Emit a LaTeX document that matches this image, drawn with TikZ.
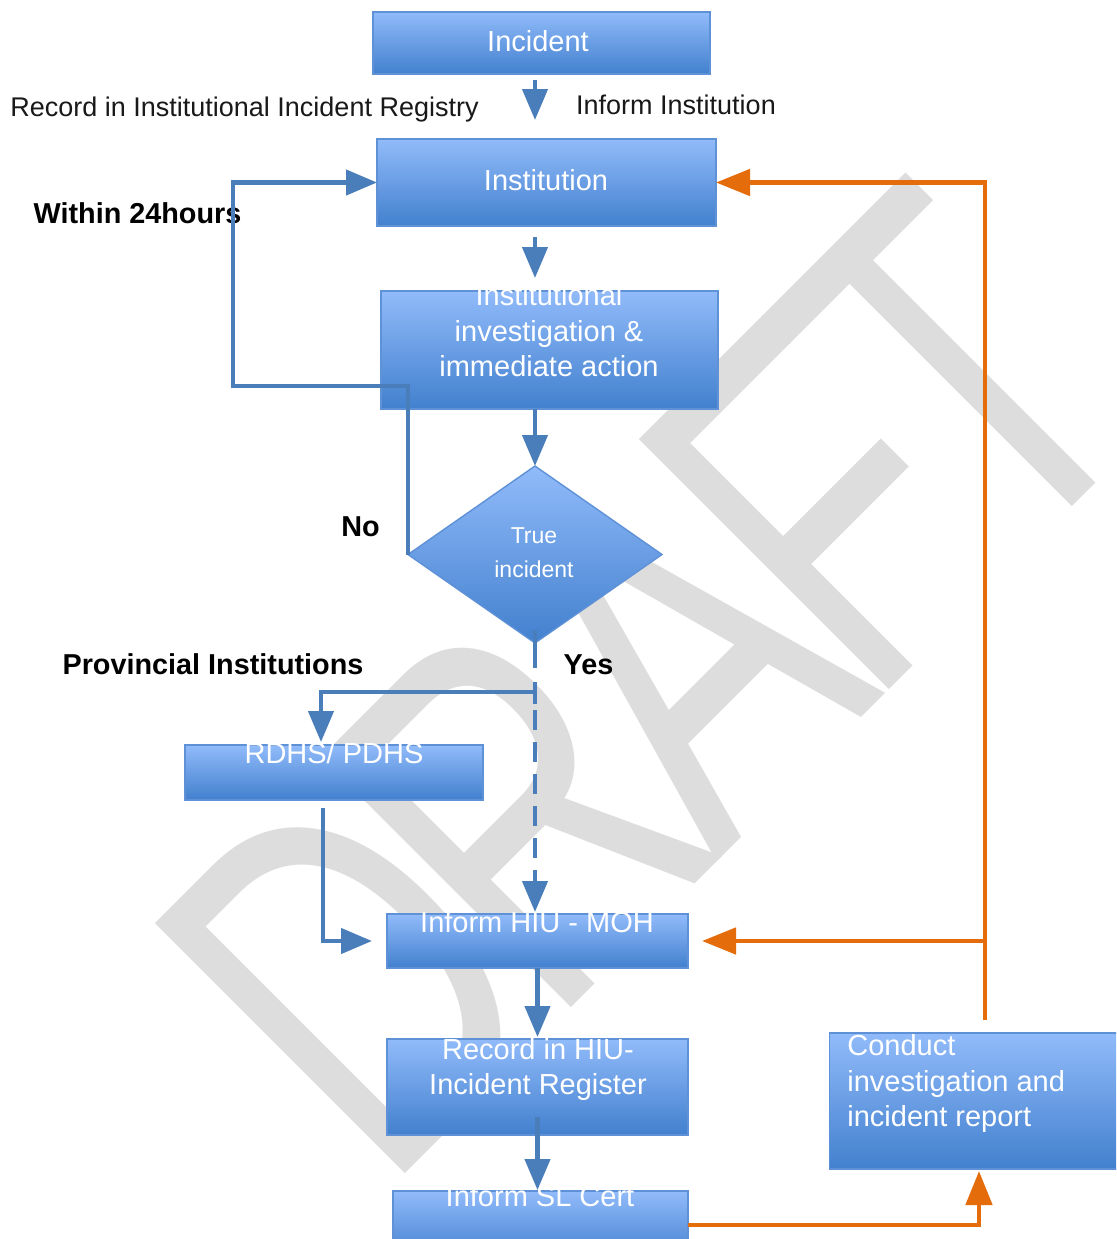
\documentclass[tikz,border=0pt]{standalone}
\usepackage{fontspec}
\setmainfont{Liberation Sans}
\usetikzlibrary{arrows.meta,shapes.geometric,calc}
\definecolor{bl}{RGB}{74,126,187}
\definecolor{org}{RGB}{228,108,10}
\definecolor{boxtop}{RGB}{145,187,250}
\definecolor{boxbot}{RGB}{66,128,206}
\definecolor{boxline}{RGB}{95,145,215}
\definecolor{wmgray}{RGB}{221,221,221}
\definecolor{labblack}{RGB}{25,25,25}
\begin{document}
\begin{tikzpicture}[x=0.5pt,y=-0.5pt,
  box/.style={draw=boxline,line width=0.7pt,top color=boxtop,bottom color=boxbot,inner sep=0pt,outer sep=0pt},
  btext/.style={text=white,font=\fontsize{14.5pt}{17.75pt}\selectfont,inner sep=0pt},
  dtext/.style={text=white,font=\fontsize{11.5pt}{17pt}\selectfont,inner sep=0pt,align=center},
  lab/.style={text=labblack,font=\fontsize{13.5pt}{16pt}\selectfont,inner sep=0pt},
  blab/.style={text=black,font=\bfseries\fontsize{14.4pt}{17pt}\selectfont,inner sep=0pt},
  bline/.style={draw=bl,line width=2.2pt},
  barrow/.style={bline,-{Triangle[length=15.5pt,width=12.5pt]}},
  oarrow/.style={draw=org,line width=2.4pt,-{Triangle[length=17pt,width=13pt]}},
  dashline/.style={dash pattern=on 10pt off 6pt}
]
\fill[white] (0,0) rectangle (1116,1239);
\clip (0,0) rectangle (1116,1239);

% watermark
\begin{scope}[shift={(648,681)}]
  \node[font={\addfontfeature{LetterSpace=-7}\fontsize{257pt}{257pt}\selectfont},text=wmgray,inner sep=0pt,
        rotate=45,xscale=0.70,transform shape] (wm) at (0,0) {DRAFT};
\end{scope}

% boxes
\node[box,minimum width=168.5pt,minimum height=31pt] (inc) at (541.5,43) {};
\node[box,minimum width=169.5pt,minimum height=43.5pt] (inst) at (546.5,182.5) {};
\node[box,minimum width=168.5pt,minimum height=59pt] (inv) at (549.5,350) {};
\node[box,diamond,minimum width=127pt,minimum height=88.5pt] (dia) at (535,554.5) {};
\node[box,minimum width=149pt,minimum height=27.5pt] (rdhs) at (334,772.5) {};
\node[box,minimum width=150.5pt,minimum height=27pt] (hiu) at (537.5,941) {};
\node[box,minimum width=150.5pt,minimum height=48pt] (rec) at (537.5,1087) {};
\node[box,minimum width=147.5pt,minimum height=34pt] (cert) at (540.5,1225) {};
\node[box,minimum width=155pt,minimum height=68pt] (cond) at (984.5,1101) {};

% box texts
\node[btext] (tinc) at (538,41) {Incident};
\node[btext] (tinst) at (546,180) {Institution};
\node[btext,align=center] (tinv) at (549,331) {Institutional\\investigation \&\\immediate action};
\node[dtext] (tdia) at (534,552.5) {True\\incident};
\node[btext] (trdhs) at (334,753) {RDHS/ PDHS};
\node[btext] (thiu) at (537,922) {Inform HIU - MOH};
\node[btext,align=center] (trec) at (538,1069.5) {Record in HIU-\\Incident Register};
\node[btext] (tcert) at (540,1196) {Inform SL Cert};
\node[btext,align=left,anchor=west] (tcond) at (847,1083.5) {Conduct\\investigation and\\incident report};

% labels
\node[lab,anchor=base] (lrec) at (244.5,116) {Record in Institutional Incident Registry};
\node[lab,anchor=base] (linf) at (676,114) {Inform Institution};
\node[blab,anchor=base] (l24) at (137.5,223) {Within 24hours};
\node[blab,anchor=base] (lno) at (360.5,536) {No};
\node[blab,anchor=base] (lprov) at (213,674) {Provincial Institutions};
\node[blab,anchor=base] (lyes) at (588.5,674) {Yes};

% helper coordinates
\coordinate (axis) at (535,0);
\coordinate (nocorner) at (233,386);
\coordinate (split) at (535,692);
\coordinate (rdin) at (321,0);
\coordinate (rdout) at (323,0);
\coordinate (ox) at (985,0);

% blue connectors
\draw[barrow,shorten <=3pt,shorten >=9.5pt] (inc.south -| axis) -- (inst.north -| axis);
\draw[barrow,shorten <=5.5pt,shorten >=6.5pt] (inst.south -| axis) -- (inv.north -| axis);
\draw[barrow] (inv.south -| axis) -- (dia.north);
\draw[barrow] (dia.west) |- (nocorner) |- (inst.west);
\draw[bline] ([yshift=6.5pt]dia.south) -- ([yshift=-12.5pt]dia.south);
\draw[bline] ([yshift=5pt]split) -- ([yshift=-6pt]split);
\draw[barrow,shorten >=1.5pt] (split) -| (rdhs.north -| rdin);
\draw[barrow,dashline,shorten <=9pt,shorten >=1pt] (split) -- (hiu.north -| axis);
\draw[barrow,shorten <=4pt,shorten >=7.5pt] (rdhs.south -| rdout) |- (hiu.west);
\draw[barrow,shorten >=1pt] (hiu.south) -- (rec.north);
\draw[barrow,shorten <=-9pt,shorten >=0.5pt] (rec.south) -- (cert.north -| rec.south);

% orange connectors
\draw[oarrow,shorten >=1pt] (cert.east) -| (cond.south -| 979,0);
\draw[oarrow,shorten <=6.5pt] (cond.north -| ox) |- (inst.east);
\draw[oarrow,shorten >=7pt] (ox |- hiu.east) -- (hiu.east);
\end{tikzpicture}
\end{document}
